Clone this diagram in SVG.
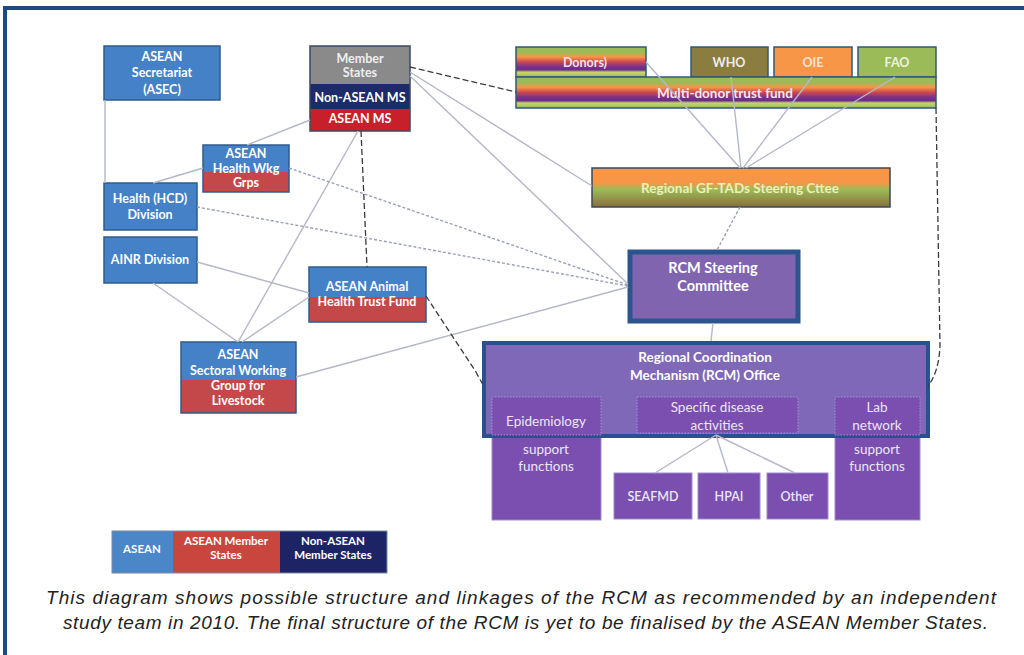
<svg xmlns="http://www.w3.org/2000/svg" width="1024" height="655" viewBox="0 0 1024 655">
<defs>
<linearGradient id="stripe" x1="0" y1="0" x2="0" y2="1">
<stop offset="0" stop-color="#9bbb59"/><stop offset="0.18" stop-color="#9bbb59"/>
<stop offset="0.33" stop-color="#f79646"/><stop offset="0.5" stop-color="#c9484f"/>
<stop offset="0.66" stop-color="#7a2f8e"/><stop offset="0.76" stop-color="#6a2d86"/>
<stop offset="0.84" stop-color="#c9d66a"/><stop offset="1" stop-color="#9bbb59"/>
</linearGradient>
<linearGradient id="gft" x1="0" y1="0" x2="0" y2="1">
<stop offset="0" stop-color="#f79646"/><stop offset="0.38" stop-color="#f79646"/>
<stop offset="0.55" stop-color="#9bbb59"/><stop offset="1" stop-color="#8a6e3c"/>
</linearGradient>
<style>
.t{font-family:Lato,"Open Sans","Liberation Sans",sans-serif;font-weight:700;fill:#fff;text-anchor:middle;font-size:12.5px}
.r{font-family:Lato,"Open Sans","Liberation Sans",sans-serif;font-weight:400;fill:#ece6f6;text-anchor:middle;font-size:13.5px}
.blue{fill:#4581c6;stroke:#2e5c8f;stroke-width:1.5}
.red{fill:#c4484a}
.sol{fill:none;stroke:#b4b8c6;stroke-width:1.4}
.ld{fill:none;stroke:#9aa0b6;stroke-width:1.4;stroke-dasharray:3 2}
.dd{fill:none;stroke:#3a3a3a;stroke-width:1.3;stroke-dasharray:6 3}
.sub{fill:#7a4fb0;stroke:#a08ad0;stroke-width:1}
.dot{fill:#7a4fb0;stroke:#a590d6;stroke-width:1;stroke-dasharray:1.5 1.5}
.cap{font-family:"Liberation Sans",Arial,sans-serif;font-style:italic;font-size:19px;fill:#222}
</style>
</defs>
<rect width="1024" height="655" fill="#fff"/>
<path d="M5,660 V8 H1030" fill="none" stroke="#1f4a7e" stroke-width="4"/>

<g id="asec"><rect class="blue" x="104" y="46" width="116" height="54"/>
<text class="t" x="162" y="61">ASEAN</text><text class="t" x="162" y="77">Secretariat</text><text class="t" x="162" y="94">(ASEC)</text></g>

<g id="member-states">
<rect x="310" y="46" width="100" height="38" fill="#8a8a8a"/>
<rect x="310" y="84" width="100" height="25" fill="#1d2b6b"/>
<rect x="310" y="109" width="100" height="22" fill="#c8202a"/>
<rect x="310" y="46" width="100" height="85" fill="none" stroke="#3a4a60" stroke-width="1.5"/>
<text class="t" x="360" y="63" style="fill:#eee">Member</text><text class="t" x="360" y="77" style="fill:#eee">States</text>
<text class="t" x="360" y="102">Non-ASEAN MS</text><text class="t" x="360" y="123">ASEAN MS</text></g>

<g id="health-wkg">
<rect x="203" y="145" width="86" height="47" fill="#4581c6"/><rect class="red" x="203" y="172" width="86" height="20"/>
<rect x="203" y="145" width="86" height="47" fill="none" stroke="#2e5c8f" stroke-width="1.5"/>
<text class="t" x="246" y="158">ASEAN</text><text class="t" x="246" y="173">Health Wkg</text><text class="t" x="246" y="187">Grps</text></g>

<g id="hcd"><rect class="blue" x="104" y="183" width="93" height="47"/>
<text class="t" x="150" y="203">Health  (HCD)</text><text class="t" x="150" y="219">Division</text></g>

<g id="ainr"><rect class="blue" x="104" y="237" width="93" height="46"/>
<text class="t" x="150" y="264">AINR Division</text></g>

<g id="ahtf">
<rect x="309" y="267" width="117" height="55" fill="#4581c6"/><rect class="red" x="309" y="297" width="117" height="25"/>
<rect x="309" y="267" width="117" height="55" fill="none" stroke="#2e5c8f" stroke-width="1.5"/>
<text class="t" x="367" y="291">ASEAN Animal</text><text class="t" x="367" y="306">Health Trust Fund</text></g>

<g id="sectoral">
<rect x="181" y="342" width="115" height="71" fill="#4581c6"/><rect class="red" x="181" y="380" width="115" height="33"/>
<rect x="181" y="342" width="115" height="71" fill="none" stroke="#2e5c8f" stroke-width="1.5"/>
<text class="t" x="238" y="359">ASEAN</text><text class="t" x="238" y="375">Sectoral Working</text>
<text class="t" x="238" y="390">Group for</text><text class="t" x="238" y="405">Livestock</text></g>

<g id="donors"><rect x="516" y="47" width="130" height="30" fill="url(#stripe)" stroke="#2f5a78" stroke-width="1.5"/>
<text class="t" x="585" y="67" style="fill:#f4e0e8">Donors)</text></g>
<g id="who"><rect x="691" y="47" width="77" height="30" fill="#8b7d3f" stroke="#2f5a78" stroke-width="1.5"/>
<text class="t" x="729" y="67" style="fill:#eee">WHO</text></g>
<g id="oie"><rect x="774" y="47" width="78" height="30" fill="#f79646" stroke="#2f5a78" stroke-width="1.5"/>
<text class="t" x="813" y="67" style="fill:#fbe3cf">OIE</text></g>
<g id="fao"><rect x="858" y="47" width="78" height="30" fill="#9bbb59" stroke="#2f5a78" stroke-width="1.5"/>
<text class="t" x="897" y="67" style="fill:#eef3e0">FAO</text></g>
<g id="multi-donor"><rect x="516" y="77" width="420" height="31" fill="url(#stripe)" stroke="#2f5a78" stroke-width="1.5"/>
<text class="t" x="725" y="98" style="fill:#f4e6ee;font-size:13.5px">Multi-donor trust fund</text></g>

<g id="gftads"><rect x="592" y="168" width="298" height="39" fill="url(#gft)" stroke="#3a4a5a" stroke-width="1.5"/>
<text class="t" x="740" y="193" style="fill:#eef0b8;font-size:13.5px">Regional GF-TADs Steering Cttee</text></g>

<g id="rcm-steering"><rect x="630" y="252" width="168" height="69" fill="#8064b0" stroke="#2c5590" stroke-width="5"/>
<text class="t" x="713" y="273" style="font-size:14.5px">RCM Steering</text><text class="t" x="713" y="291" style="font-size:14.5px">Committee</text></g>

<g id="rcm-office">
<rect class="sub" x="492" y="437" width="109" height="83"/>
<rect class="sub" x="835" y="437" width="85" height="83"/>
<rect x="484" y="343" width="444" height="93" fill="#8068b8" stroke="#2a5090" stroke-width="4"/>
<text class="t" x="705" y="362" style="font-size:13.5px">Regional Coordination</text>
<text class="t" x="705" y="380" style="font-size:13.5px">Mechanism (RCM) Office</text>
<rect class="dot" x="492" y="397" width="109" height="38"/>
<rect class="dot" x="637" y="397" width="161" height="36"/>
<rect class="dot" x="835" y="397" width="85" height="38"/>
<text class="r" x="546" y="426">Epidemiology</text>
<text class="r" x="717" y="412">Specific disease</text><text class="r" x="717" y="430">activities</text>
<text class="r" x="877" y="412">Lab</text><text class="r" x="877" y="430">network</text>
<text class="r" x="546" y="454">support</text><text class="r" x="546" y="471">functions</text>
<text class="r" x="877" y="454">support</text><text class="r" x="877" y="471">functions</text></g>

<g id="seafmd"><rect class="sub" x="614" y="473" width="78" height="46"/><text class="t" x="653" y="501" style="font-weight:600;fill:#ece6f6">SEAFMD</text></g>
<g id="hpai"><rect class="sub" x="698" y="473" width="62" height="46"/><text class="t" x="729" y="501" style="font-weight:600;fill:#ece6f6">HPAI</text></g>
<g id="other"><rect class="sub" x="767" y="473" width="61" height="46"/><text class="t" x="797" y="501" style="font-weight:600;fill:#ece6f6">Other</text></g>

<g id="connectors">
<line class="sol" x1="105" y1="100" x2="105" y2="183"/>
<line class="sol" x1="310" y1="120" x2="247" y2="145"/>
<line class="sol" x1="203" y1="168" x2="153" y2="183"/>
<line class="sol" x1="358" y1="131" x2="238" y2="342"/>
<line class="sol" x1="197" y1="262" x2="309" y2="293"/>
<line class="sol" x1="153" y1="283" x2="238" y2="342"/>
<line class="sol" x1="309" y1="297" x2="242" y2="342"/>
<line class="sol" x1="296" y1="377" x2="628" y2="287"/>
<line class="sol" x1="410" y1="72" x2="592" y2="186"/>
<line class="sol" x1="410" y1="76" x2="628" y2="284"/>
<line class="sol" x1="646" y1="62" x2="740" y2="168"/>
<line class="sol" x1="731" y1="77" x2="741" y2="168"/>
<line class="sol" x1="812" y1="77" x2="743" y2="168"/>
<line class="sol" x1="895" y1="77" x2="746" y2="168"/>
<line class="sol" x1="713" y1="323" x2="711" y2="341"/>
<line class="sol" x1="716" y1="435" x2="655" y2="473"/>
<line class="sol" x1="716" y1="435" x2="728" y2="473"/>
<line class="sol" x1="716" y1="435" x2="795" y2="473"/>
<line class="ld" x1="740" y1="207" x2="717" y2="250"/>
<line class="ld" x1="289" y1="168" x2="628" y2="285"/>
<line class="ld" x1="197" y1="207" x2="628" y2="286"/>
<line class="dd" x1="410" y1="67" x2="516" y2="92"/>
<line class="dd" x1="361" y1="131" x2="367" y2="267"/>
<path class="dd" d="M426,296 L476,372 Q480,380 484,386"/>
<path class="dd" d="M936,108 L940,345 Q939,372 928,386"/>
</g>

<g id="legend">
<rect x="112" y="531" width="61" height="42" fill="#4a86c8"/>
<rect x="173" y="531" width="107" height="42" fill="#c9463f"/>
<rect x="280" y="531" width="107" height="42" fill="#1d2466"/>
<rect x="112" y="531" width="275" height="42" fill="none" stroke="#7a8aa8" stroke-width="1"/>
<text class="t" x="142" y="553" style="font-size:11.5px">ASEAN</text>
<text class="t" x="226" y="545" style="font-size:11.5px">ASEAN Member</text><text class="t" x="226" y="559" style="font-size:11.5px">States</text>
<text class="t" x="333" y="545" style="font-size:11.5px">Non-ASEAN</text><text class="t" x="333" y="559" style="font-size:11.5px">Member States</text>
</g>

<text class="cap" x="46" y="604" textLength="950" lengthAdjust="spacing">This diagram shows possible structure and linkages of the RCM as recommended by an independent</text>
<text class="cap" x="63" y="629" textLength="925" lengthAdjust="spacing">study team in 2010. The final structure of the RCM is yet to be finalised by the ASEAN Member States.</text>
</svg>
